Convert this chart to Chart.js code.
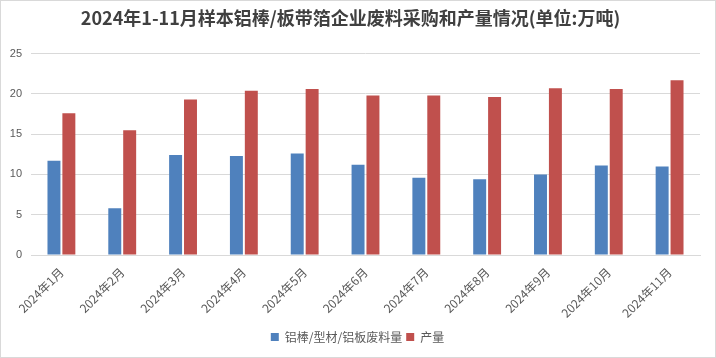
<!DOCTYPE html>
<html><head><meta charset="utf-8">
<script src="https://cdn.jsdelivr.net/npm/chart.js@4.4.1/dist/chart.umd.min.js"></script>
<style>
html,body{margin:0;padding:0;background:#fff;}
#wrap{position:relative;width:714px;height:356px;border:1px solid #d9d9d9;}
</style></head>
<body><div id="wrap"><canvas id="c" width="714" height="356"></canvas></div>
<script>
const categories = ["2024年1月","2024年2月","2024年3月","2024年4月","2024年5月","2024年6月","2024年7月","2024年8月","2024年9月","2024年10月","2024年11月"];
const scrapValues = [11.7, 5.8, 12.4, 12.3, 12.6, 11.2, 9.6, 9.4, 10.0, 11.1, 11.0];
const outputValues = [17.6, 15.5, 19.3, 20.4, 20.6, 19.8, 19.8, 19.6, 20.7, 20.6, 21.7];
const yTicks = [0, 5, 10, 15, 20, 25];
const seriesNames = ["铝棒/型材/铝板废料量", "产量"];
const titleText = "2024年1-11月样本铝棒/板带箔企业废料采购和产量情况(单位:万吨)";

const FONT = "'Noto Sans CJK SC', 'Noto Sans', sans-serif";
const legendShift = {
  id: 'legendShift',
  afterLayout(chart) { if (chart.legend) { chart.legend.left += 7; chart.legend.right += 7; } }
};
new Chart(document.getElementById('c'), {
  type: 'bar',
  data: {
    labels: categories,
    datasets: [
      {label: seriesNames[0], data: scrapValues, backgroundColor: '#4f81bd', categoryPercentage: 0.49, barPercentage: 0.87},
      {label: seriesNames[1], data: outputValues, backgroundColor: '#c0504d', categoryPercentage: 0.49, barPercentage: 0.87}
    ]
  },
  plugins: [legendShift],
  options: {
    responsive: false,
    animation: false,
    layout: {padding: {left: 0, right: 15, top: 0, bottom: 4}},
    plugins: {
      title: {display: true, text: titleText, color: '#404040', font: {family: FONT, size: 18, weight: 'bold'}, padding: {top: 6, bottom: 25}},
      legend: {position: 'bottom', labels: {color: '#595959', font: {family: FONT, size: 12}, boxWidth: 8, boxHeight: 8, padding: 4}},
      tooltip: {enabled: false}
    },
    scales: {
      x: {
        grid: {display: false},
        border: {display: true, color: '#d9d9d9', width: 1},
        ticks: {color: '#595959', font: {family: FONT, size: 12}, minRotation: 45, maxRotation: 45, padding: 2},
        afterFit: (s) => { s.height = 72; }
      },
      y: {
        min: 0, max: 25,
        afterBuildTicks: (s) => { s.ticks = yTicks.map(v => ({value: v})); },
        grid: {color: '#d9d9d9', lineWidth: 1, drawTicks: false},
        border: {display: false},
        ticks: {color: '#595959', font: {family: "'Liberation Sans', sans-serif", size: 11}, padding: 9},
        afterFit: (s) => { s.width = 30; }
      }
    }
  }
});
</script></body></html>
